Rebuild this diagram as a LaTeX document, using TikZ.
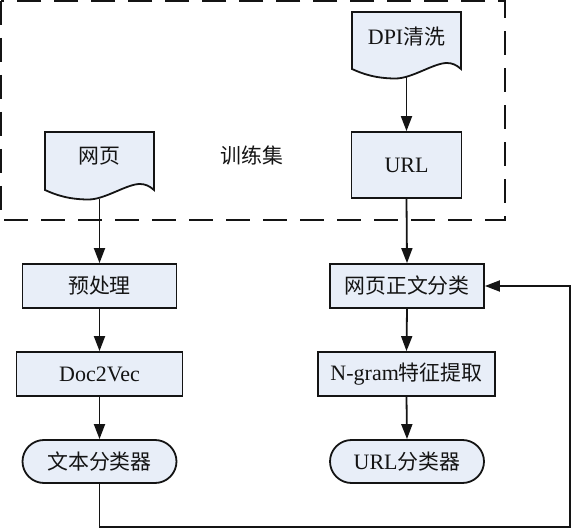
\documentclass[tikz,border=0pt]{standalone}
\usepackage{fontspec}
\setmainfont{Liberation Serif}
\newfontfamily\cjk{Noto Sans CJK SC}[Scale=0.95]
\usetikzlibrary{arrows.meta}
\definecolor{boxfill}{RGB}{232,238,248}
\definecolor{inkc}{RGB}{20,20,20}
\begin{document}
\begin{tikzpicture}[x=1pt,y=-1pt,
  every node/.style={font=\fontsize{22}{26}\selectfont, text=inkc},
  procbox/.style={draw=inkc, line width=1.8pt, fill=boxfill, minimum height=44pt, inner sep=0pt},
  termbox/.style={draw=inkc, line width=1.8pt, fill=boxfill, minimum height=43pt, minimum width=154pt, rounded corners=21.5pt, inner sep=0pt},
  docnode/.style={minimum width=109pt, inner sep=0pt},
  docshape/.style={draw=inkc, line width=1.8pt, fill=boxfill},
  arr/.style={draw=inkc, line width=1.8pt, -{Triangle[length=15pt,width=11pt]}},
  groupbox/.style={draw=inkc, line width=1.8pt, dash pattern=on 24pt off 13pt}
]
\useasboundingbox (0,0) rectangle (573,529);

% training set group
\draw[groupbox] (1,1) rectangle (505,220);
\node (train) at (252,155) {\cjk 训练集};

% document shapes
\draw[docshape] (352,69) -- (352,12) -- (461,12) -- (461,69)
  .. controls (456.6,65) and (452.3,63) .. (446.8,63)
  .. controls (433.75,63) and (412,78.5) .. (395.6,78.5)
  .. controls (376,78.5) and (362.9,74) .. (352,69) -- cycle;
\node[docnode, anchor=north, text height=32pt, text depth=33pt] (dpi) at (406.5,12) {DPI{\cjk 清洗}};

\draw[docshape] (45,190) -- (45,132) -- (154,132) -- (154,190)
  .. controls (149.6,186) and (145.3,184) .. (139.8,184)
  .. controls (126.75,184) and (105,199.5) .. (88.6,199.5)
  .. controls (69,199.5) and (55.9,195) .. (45,190) -- cycle;
\node[docnode, anchor=north, text height=31pt, text depth=35.5pt] (web) at (99.5,132) {\cjk 网页};

% right column
\node[procbox, minimum width=110pt, minimum height=66pt] (url) at (406.5,165) {URL};
\node[procbox, minimum width=154pt] (body) at (407,286) {\cjk 网页正文分类};
\node[procbox, minimum width=177pt] (ngram) at (406.5,374) {N-gram{\cjk 特征提取}};
\node[termbox] (urlclf) at (407,461.5) {URL{\cjk 分类器}};

% left column
\node[procbox, minimum width=154pt] (pre) at (99.5,286) {\cjk 预处理};
\node[procbox, minimum width=166pt] (d2v) at (99.5,374) {Doc2Vec};
\node[termbox] (txtclf) at (99.5,461.5) {\cjk 文本分类器};

% connectors
\draw[arr] (dpi.south) -- (url.north);
\draw[arr] (url.south) -- (body.north);
\draw[arr] (body.south) -- (ngram.north);
\draw[arr] (ngram.south) -- (urlclf.north);

\draw[arr] (web.south) -- (pre.north);
\draw[arr] (pre.south) -- (d2v.north);
\draw[arr] (d2v.south) -- (txtclf.north);

\coordinate (fbcorner) at (570,527);
\draw[arr] (txtclf.south) |- (fbcorner) |- (body.east);
\end{tikzpicture}
\end{document}
